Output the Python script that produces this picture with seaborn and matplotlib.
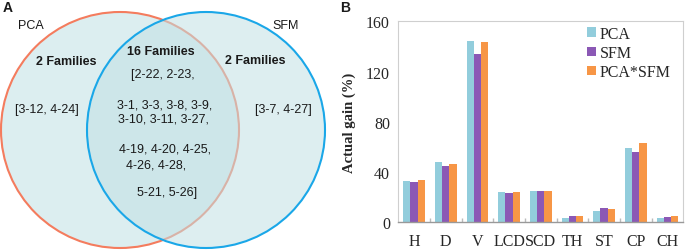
import matplotlib
matplotlib.use("Agg")
import matplotlib.pyplot as plt
from matplotlib.patches import Ellipse
import seaborn as sns
import pandas as pd
import numpy as np

# ---- data ----
traits = ["H", "D", "V", "LCD", "SCD", "TH", "ST", "CP", "CH"]
methods = ["PCA", "SFM", "PCA*SFM"]
pca_gain = [33.0, 47.9, 144.7, 23.9, 24.7, 3.2, 9.3, 59.3, 3.7]
sfm_gain = [32.4, 44.7, 134.0, 23.7, 24.7, 4.8, 11.4, 56.1, 4.5]
both_gain = [34.0, 46.8, 143.6, 24.2, 25.3, 4.8, 10.4, 63.0, 4.8]
yticks = [0, 40, 80, 120, 160]

venn_left_label = "PCA"
venn_right_label = "SFM"
left_title = "2 Families"
left_items = "[3-12, 4-24]"
right_title = "2 Families"
right_items = "[3-7, 4-27]"
mid_title = "16 Families"
mid_lines = ["[2-22, 2-23,", "3-1, 3-3, 3-8, 3-9,", "3-10, 3-11, 3-27,",
             "4-19, 4-20, 4-25,", "4-26, 4-28,", "5-21, 5-26]"]

sns.set_theme(style="white")
plt.rcParams["font.family"] = ["Liberation Sans", "DejaVu Sans"]

W, H = 685, 253
fig = plt.figure(figsize=(W / 100, H / 100), dpi=100)

# ---- Panel A: Venn ----
axA = fig.add_axes([0, 0, 1, 1])
axA.set_xlim(0, W)
axA.set_ylim(H, 0)
axA.axis("off")
r_w, r_h = 238, 236
c1 = (120, 131)
c2 = (206, 131)
axA.add_patch(Ellipse(c1, r_w, r_h, facecolor="#DCEEF0", edgecolor="#F47C5E", lw=1.5, zorder=1))
axA.add_patch(Ellipse(c2, r_w, r_h, facecolor="#C2E0E4", edgecolor="none", alpha=0.55, zorder=2))
axA.add_patch(Ellipse(c2, r_w, r_h, facecolor="none", edgecolor="#1AA7E8", lw=1.5, zorder=3))

fs = 9
txt = dict(color="#1a1a1a", zorder=5)
axA.text(3, 8, "A", fontsize=10, fontweight="bold", va="center", ha="left", **txt)
axA.text(31, 26, venn_left_label, fontsize=fs, ha="center", va="center", **txt)
axA.text(286, 26, venn_right_label, fontsize=fs, ha="center", va="center", **txt)
axA.text(66, 62, left_title, fontsize=fs, fontweight="bold", ha="center", va="center", **txt)
axA.text(47, 110, left_items, fontsize=fs, ha="center", va="center", **txt)
axA.text(255, 61, right_title, fontsize=fs, fontweight="bold", ha="center", va="center", **txt)
axA.text(283, 110, right_items, fontsize=fs, ha="center", va="center", **txt)
axA.text(161, 52, mid_title, fontsize=fs, fontweight="bold", ha="center", va="center", **txt)
mid_y = [75, 105, 120, 150, 165, 193]
mid_x = [163, 165, 163, 165, 156, 167]
for s, x, y in zip(mid_lines, mid_x, mid_y):
    axA.text(x, y, s, fontsize=fs, ha="center", va="center", **txt)
axA.text(345, 8, "B", fontsize=10, fontweight="bold", va="center", ha="center", **txt)

# ---- Panel B: bars ----
df = pd.DataFrame({
    "trait": traits * 3,
    "method": [methods[0]] * 9 + [methods[1]] * 9 + [methods[2]] * 9,
    "gain": pca_gain + sfm_gain + both_gain,
})
x0, x1 = 398.3, 683.3
y0, y1 = 223.3, 22.3
axB = fig.add_axes([x0 / W, 1 - y0 / H, (x1 - x0) / W, (y0 - y1) / H])
palette = {"PCA": "#92CDDC", "SFM": "#8B58B5", "PCA*SFM": "#F79646"}
sns.barplot(data=df, x="trait", y="gain", hue="method", order=traits, hue_order=methods,
            palette=palette, width=0.69, saturation=1, linewidth=0, ax=axB)
axB.set_ylim(0, 160)
axB.set_xlim(-0.5, len(traits) - 0.5)
axB.set_yticks(yticks)
serif = ["Liberation Serif", "DejaVu Serif"]
tfs = 11.5
axB.set_yticklabels([str(v) for v in yticks], fontsize=tfs, family=serif)
axB.set_xticks(range(len(traits)))
axB.set_xticklabels(traits, fontsize=tfs, family=serif)
axB.set_xticks(np.arange(0.5, len(traits) - 0.5, 1), minor=True)
axB.tick_params(axis="x", which="major", length=0, pad=8)
axB.tick_params(axis="x", which="minor", length=3, direction="in", color="#bbbbbb", bottom=True)
axB.tick_params(axis="y", length=0, pad=6)
axB.set_xlabel("")
axB.set_ylabel("Actual gain (%)", fontsize=10.5, fontweight="bold", family=serif, labelpad=7)
for side in ["left", "right", "top"]:
    axB.spines[side].set_color("#cfcfcf")
    axB.spines[side].set_linewidth(0.8)
    axB.spines[side].set_visible(True)
axB.spines["bottom"].set_color("#999999")
axB.spines["bottom"].set_linewidth(1.0)
axB.spines["bottom"].set_visible(True)
leg = axB.legend(loc="upper right", bbox_to_anchor=(0.99, 1.025), frameon=False,
                 prop={"family": serif, "size": tfs}, handlelength=0.55, handleheight=0.55,
                 handletextpad=0.25, labelspacing=0.2, borderaxespad=0.2)

fig.savefig("out.png", dpi=100)
